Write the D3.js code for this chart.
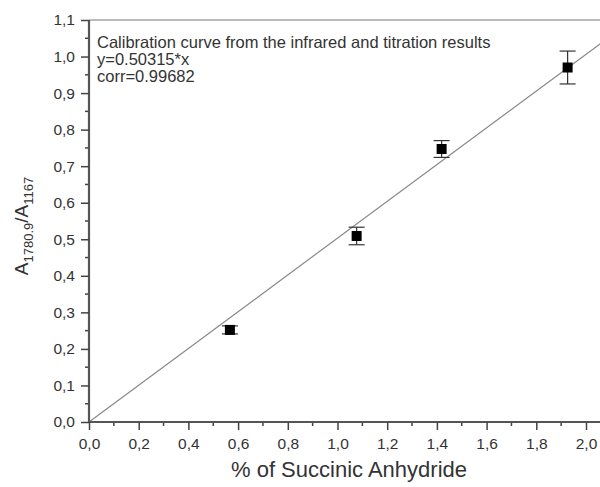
<!DOCTYPE html>
<html>
<head>
<meta charset="utf-8">
<script src="https://cdn.jsdelivr.net/npm/d3@7"></script>
<style>
  body { margin: 0; background: #fff; }
  text { font-family: Arial, "Liberation Sans", sans-serif; fill: #333; }
</style>
</head>
<body>
<svg width="600" height="487"></svg>
<script>
// Data.
const xValues = [0.567, 1.077, 1.419, 1.926];
const yValues = [0.252, 0.509, 0.747, 0.970];
const yErrors = [0.011, 0.024, 0.023, 0.045];
const slope = 0.50315;
const xTicks = [0, 0.2, 0.4, 0.6, 0.8, 1.0, 1.2, 1.4, 1.6, 1.8, 2.0];
const yTicks = [0, 0.1, 0.2, 0.3, 0.4, 0.5, 0.6, 0.7, 0.8, 0.9, 1.0, 1.1];
const notes = ['Calibration curve from the infrared and titration results', 'y=0.50315*x', 'corr=0.99682'];

const svg = d3.select('svg');
const mLeft = 89, mTop = 20, mBottom = 422;

// Scales. The frame runs past the right edge of the picture.
const x = d3.scaleLinear().domain([0, 2.1]).range([mLeft, mLeft + 2.1 * 248.5]);
const y = d3.scaleLinear().domain([0, 1.1]).range([mBottom, mTop]);
const fmt = d => d3.format('.1f')(d).replace('.', ',');

// Frame top and right.
svg.append('line')
  .attr('x1', mLeft).attr('x2', x(2.1)).attr('y1', mTop).attr('y2', mTop)
  .attr('stroke', '#777').attr('stroke-width', 1.2);
svg.append('line')
  .attr('x1', x(2.1)).attr('x2', x(2.1)).attr('y1', mTop).attr('y2', mBottom)
  .attr('stroke', '#777').attr('stroke-width', 1.2);

// Fit line.
svg.append('line')
  .attr('x1', x(0)).attr('y1', y(0))
  .attr('x2', x(2.1)).attr('y2', y(2.1 * slope))
  .attr('stroke', '#888').attr('stroke-width', 1.2);

// Minor ticks.
const minorX = d3.range(0.1, 2.1, 0.2);
const minorY = d3.range(0.05, 1.1, 0.1);
svg.selectAll('.mx').data(minorX).join('line')
  .attr('x1', d => x(d)).attr('x2', d => x(d))
  .attr('y1', mBottom).attr('y2', mBottom + 4)
  .attr('stroke', '#444').attr('stroke-width', 1.5);
svg.selectAll('.my').data(minorY).join('line')
  .attr('y1', d => y(d)).attr('y2', d => y(d))
  .attr('x1', mLeft).attr('x2', mLeft - 4)
  .attr('stroke', '#444').attr('stroke-width', 1.5);

// Axes.
const xAxis = svg.append('g')
  .attr('transform', `translate(0,${mBottom})`)
  .call(d3.axisBottom(x).tickValues(xTicks).tickFormat(fmt).tickSize(8).tickPadding(8));
const yAxis = svg.append('g')
  .attr('transform', `translate(${mLeft},0)`)
  .call(d3.axisLeft(y).tickValues(yTicks).tickFormat(fmt).tickSize(8).tickPadding(6));
[xAxis, yAxis].forEach(g => {
  g.select('.domain').attr('stroke', '#555').attr('stroke-width', 2.2);
  g.selectAll('.tick line').attr('stroke', '#444').attr('stroke-width', 1.5);
  g.selectAll('.tick text').attr('font-size', 15.5).attr('fill', '#333');
});
yAxis.select('.domain').attr('d', `M0,${mBottom}V${mTop}`);
xAxis.select('.domain').attr('d', `M${mLeft},0H600`);

// Error bars.
const pts = xValues.map((v, i) => ({ x: v, y: yValues[i], e: yErrors[i] }));
const bars = svg.append('g').attr('stroke', '#333').attr('stroke-width', 1.2);
bars.selectAll('.v').data(pts).join('line')
  .attr('x1', d => x(d.x)).attr('x2', d => x(d.x))
  .attr('y1', d => y(d.y - d.e)).attr('y2', d => y(d.y + d.e));
bars.selectAll('.t').data(pts).join('line')
  .attr('x1', d => x(d.x) - 8).attr('x2', d => x(d.x) + 8)
  .attr('y1', d => y(d.y + d.e)).attr('y2', d => y(d.y + d.e));
bars.selectAll('.b').data(pts).join('line')
  .attr('x1', d => x(d.x) - 8).attr('x2', d => x(d.x) + 8)
  .attr('y1', d => y(d.y - d.e)).attr('y2', d => y(d.y - d.e));

// Markers.
svg.selectAll('.pt').data(pts).join('rect')
  .attr('x', d => x(d.x) - 5).attr('y', d => y(d.y) - 5)
  .attr('width', 10).attr('height', 10).attr('fill', '#000');

// Notes.
svg.selectAll('.note').data(notes).join('text')
  .attr('x', 97).attr('y', (d, i) => 48 + i * 17)
  .attr('font-size', 16.5).attr('fill', '#222')
  .text(d => d);

// Axis titles.
svg.append('text')
  .attr('x', 349).attr('y', 477).attr('text-anchor', 'middle')
  .attr('font-size', 22).attr('fill', '#222')
  .text('% of Succinic Anhydride');

const yt = svg.append('text')
  .attr('transform', 'translate(28,226) rotate(-90)')
  .attr('text-anchor', 'middle').attr('font-size', 19).attr('fill', '#222');
yt.append('tspan').text('A');
yt.append('tspan').attr('font-size', 13).attr('dy', 5).text('1780.9');
yt.append('tspan').attr('dy', -5).text('/A');
yt.append('tspan').attr('font-size', 13).attr('dy', 5).text('1167');
</script>
</body>
</html>
